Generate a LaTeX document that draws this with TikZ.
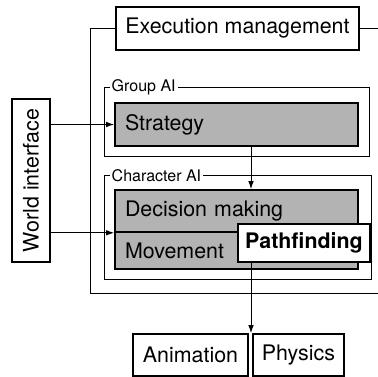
\documentclass[tikz,border=0pt]{standalone}
\usepackage{fontspec}
\setmainfont{TeX Gyre Heros}
\usepackage{tikz}
\usetikzlibrary{arrows.meta,positioning,calc}
\definecolor{layergray}{HTML}{B3B3B3}

\begin{document}
\begin{tikzpicture}[x=1pt, y=-1pt,
    every node/.style={font=\fontsize{21.4}{25}\selectfont},
    whitebox/.style={draw, line width=1.6pt, fill=white, inner sep=0pt},
    graybox/.style={draw, line width=1.6pt, fill=layergray, inner xsep=10pt,
                    inner ysep=0pt, align=left},
    layerframe/.style={draw, line width=1pt, inner sep=0pt},
    framelabel/.style={fill=white, inner xsep=2pt, inner ysep=1pt,
                       font=\fontsize{16}{19}\selectfont},
    flowarrow/.style={line width=1pt, -{Latex[length=8pt,width=5.5pt]}}]
  \useasboundingbox (0,0) rectangle (378,377);

  %% Execution management and its outer frame
  \node[whitebox, line width=2pt, minimum width=243, minimum height=43]
    (exec) at (237.5,28.5) {Execution management};
  \coordinate (frameSW) at (90,293);
  \coordinate (frameSE) at (379,293);
  \coordinate (frameNE) at (379,28.5);
  \draw[line width=1pt] (exec.west) -| (frameSW) -- (frameSE);
  \draw[line width=1pt] (exec.east) -- (frameNE);

  %% Group AI layer
  \node[layerframe, minimum width=265, minimum height=69]
    (groupframe) at (236.5,122.5) {};
  \node[framelabel, anchor=west] (grouplabel)
    at ($(groupframe.north west)+(6,0)$) {Group AI};
  \node[graybox, minimum height=43, text width=223]
    (strategy) at (236.5,124.5) {Strategy};

  %% Character AI layer
  \node[layerframe, minimum width=267, minimum height=104]
    (charframe) at (237.5,228) {};
  \node[framelabel, anchor=west] (charlabel)
    at ($(charframe.north west)+(6,0)$) {Character AI};
  \node[graybox, minimum height=42, text width=223]
    (decision) at (236.5,211) {Decision making};
  \node[graybox, minimum height=37, text width=223]
    (movement) at (236.5,250.5) {Movement};
  \node[whitebox, line width=2pt, minimum width=132, minimum height=38,
        font=\fontsize{21.4}{25}\selectfont\bfseries]
    (pathfinding) at (304,243) {Pathfinding};

  %% World interface
  \node[whitebox, rotate=90, minimum width=163, minimum height=38]
    (world) at (31,180.5) {World interface};

  %% Output systems
  \node[whitebox, minimum width=115, minimum height=42]
    (animation) at (190.5,355) {Animation};
  \node[whitebox, minimum width=91, minimum height=42]
    (physics) at (298.5,355) {Physics};

  %% Connectors
  \coordinate (flow) at (251,0);
  \draw[flowarrow] (strategy.west -| world.south) -- (strategy.west);
  \draw[flowarrow] (decision.south west -| world.south) -- (decision.south west);
  \draw[flowarrow] (strategy.south -| flow) -- (decision.north -| flow);
  \draw[flowarrow] (pathfinding.south -| flow) -- (animation.north -| flow);
\end{tikzpicture}
\end{document}
